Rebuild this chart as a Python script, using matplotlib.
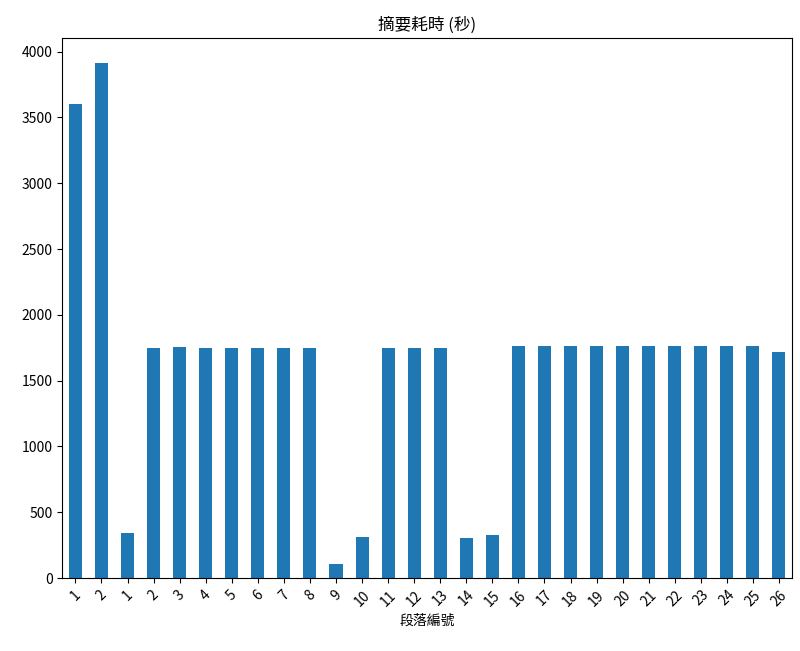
import matplotlib
matplotlib.use("Agg")
import matplotlib.pyplot as plt

plt.rcParams['font.family'] = ['Noto Sans CJK TC', 'DejaVu Sans']

labels = ['1', '2'] + [str(i) for i in range(1, 27)]
values = [3600, 3910, 340, 1750, 1755, 1750, 1750, 1750, 1750, 1750, 110, 310,
          1750, 1750, 1750, 305, 330, 1765, 1760, 1760, 1765, 1765, 1765, 1760,
          1760, 1765, 1765, 1715]

fig, ax = plt.subplots(figsize=(8, 6.51), dpi=100)
x = range(len(values))
ax.bar(x, values, width=0.5, color='#1f77b4')
ax.set_xticks(list(x))
ax.set_xticklabels(labels, rotation=45)
ax.set_xlim(-0.5, len(values) - 0.5)
ax.set_title('摘要耗時 (秒)')
ax.set_xlabel('段落編號')
fig.subplots_adjust(left=0.078, right=0.99, top=0.942, bottom=0.112)
fig.savefig('out.png')
